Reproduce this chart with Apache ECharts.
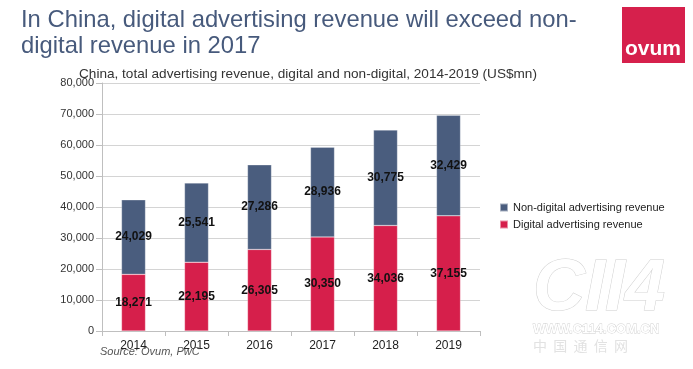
<!DOCTYPE html>
<html>
<head>
<meta charset="utf-8">
<script src="https://cdn.jsdelivr.net/npm/echarts@6/dist/echarts.min.js"></script>
<style>
html,body{margin:0;padding:0;background:#fff;}
#chart{width:693px;height:369px;}
</style>
</head>
<body>
<div id="chart"></div>
<script>
var years = ['2014', '2015', '2016', '2017', '2018', '2019'];
var digital = [18271, 22195, 26305, 30350, 34036, 37155];
var nonDigital = [24029, 25541, 27286, 28936, 30775, 32429];
var seriesNames = ['Non-digital advertising revenue', 'Digital advertising revenue'];

function fmt(v) {
  return String(v).replace(/\B(?=(\d{3})+(?!\d))/g, ',');
}

var FONT = '"Liberation Sans", Arial, sans-serif';
var chart = echarts.init(document.getElementById('chart'));
var labelStyle = {
  show: true,
  position: 'inside',
  color: '#111',
  fontSize: 12,
  fontWeight: 'bold',
  fontFamily: FONT,
  formatter: function (p) { return fmt(p.value); }
};

chart.setOption({
  animation: false,
  backgroundColor: '#fff',
  textStyle: { fontFamily: FONT },
  title: [{
    text: 'In China, digital advertising revenue will exceed non-\ndigital revenue in 2017',
    left: 16,
    top: 2,
    textStyle: { fontSize: 23.8, lineHeight: 26, fontWeight: 'normal', color: '#475a7c', fontFamily: FONT }
  }, {
    text: 'China, total advertising revenue, digital and non-digital, 2014-2019 (US$mn)',
    left: 74,
    top: 62,
    textStyle: { fontSize: 13.6, fontWeight: 'normal', color: '#333', fontFamily: FONT }
  }],
  legend: {
    data: seriesNames,
    orient: 'vertical',
    left: 494,
    top: 197,
    itemWidth: 8,
    itemHeight: 8,
    itemGap: 6,
    icon: 'rect',
    textStyle: { fontSize: 11, color: '#222', fontFamily: FONT }
  },
  grid: { left: 102, right: 213, top: 83, bottom: 38, containLabel: false },
  xAxis: {
    type: 'category',
    data: years,
    axisLine: { show: true, lineStyle: { color: '#bfbfbf' } },
    axisTick: { show: true, length: 5, lineStyle: { color: '#bfbfbf' } },
    axisLabel: { color: '#222', fontSize: 12, margin: 9, fontFamily: FONT }
  },
  yAxis: {
    type: 'value',
    min: 0,
    max: 80000,
    interval: 10000,
    axisLine: { show: true, lineStyle: { color: '#bfbfbf' } },
    axisTick: { show: true, inside: false, length: 6, lineStyle: { color: '#bfbfbf' } },
    splitLine: { show: true, lineStyle: { color: '#d4d4d4' } },
    axisLabel: {
      color: '#333', fontSize: 11, margin: 8, fontFamily: FONT,
      formatter: function (v) { return fmt(v); }
    }
  },
  series: [{
    name: 'Digital advertising revenue',
    type: 'bar',
    stack: 'total',
    barWidth: 24,
    data: digital,
    itemStyle: { color: '#d61f4b', borderColor: 'rgba(255,255,255,0.5)', borderWidth: 0.5 },
    label: labelStyle
  }, {
    name: 'Non-digital advertising revenue',
    type: 'bar',
    stack: 'total',
    barWidth: 24,
    data: nonDigital,
    itemStyle: { color: '#4a5d7e', borderColor: 'rgba(255,255,255,0.5)', borderWidth: 0.5 },
    label: labelStyle
  }],
  graphic: [{
    type: 'rect',
    shape: { x: 622, y: 7, width: 63, height: 56 },
    style: { fill: '#d6204c' },
    silent: true
  }, {
    type: 'text',
    x: 625, y: 60,
    style: { text: 'ovum', fill: '#fff', font: 'bold 21px ' + FONT, textVerticalAlign: 'bottom' },
    silent: true
  }, {
    type: 'text',
    x: 100, y: 352,
    style: { text: 'Source: Ovum, PwC', fill: '#555', font: 'italic 11px ' + FONT, textVerticalAlign: 'middle' },
    z: 10
  }, {
    type: 'text',
    x: 533, y: 290,
    style: { text: 'CII4', fill: '#fff', stroke: '#cfcfcf', lineWidth: 1, font: 'italic bold 72px ' + FONT, textVerticalAlign: 'middle' },
    silent: true, z: -1
  }, {
    type: 'text',
    x: 533, y: 329,
    style: { text: 'WWW.C114.COM.CN', fill: '#fff', stroke: '#d0d0d0', lineWidth: 0.8, font: 'bold 13px ' + FONT, textVerticalAlign: 'middle' },
    silent: true, z: -1
  }, {
    type: 'text',
    x: 533, y: 346,
    style: { text: '中  国  通  信  网', fill: '#e2e2e2', font: '14px "Noto Sans CJK SC"', textVerticalAlign: 'middle' },
    silent: true, z: -1
  }]
});
</script>
</body>
</html>
